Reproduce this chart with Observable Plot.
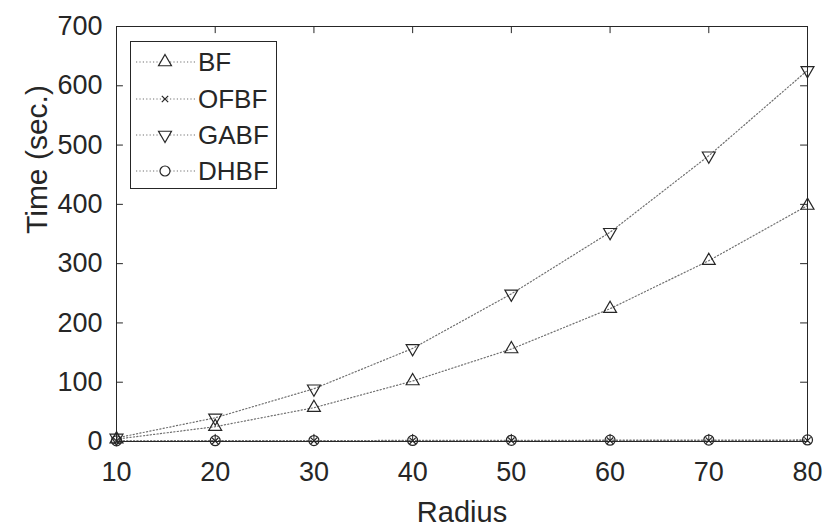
<!DOCTYPE html>
<html>
<head>
<meta charset="utf-8">
<script src="https://cdn.jsdelivr.net/npm/d3@7"></script>
<script src="https://cdn.jsdelivr.net/npm/@observablehq/plot@0.6"></script>
<style>
  html, body { margin: 0; padding: 0; background: #fff; }
  #wrap { position: relative; width: 826px; height: 530px; font-family: "Liberation Sans", Arial, sans-serif; }
  #legend { position: absolute; left: 0; top: 0; }
</style>
</head>
<body>
<div id="wrap"></div>
<script>
const radius = [10, 20, 30, 40, 50, 60, 70, 80];
const bf   = [4, 25, 57, 102, 156, 224, 305, 398];
const ofbf = [0.8, 1.0, 1.1, 1.2, 1.3, 1.4, 1.5, 1.6];
const gabf = [6, 40, 89, 157, 249, 353, 482, 626];
const dhbf = [1.2, 1.4, 1.6, 1.8, 2.0, 2.2, 2.4, 2.6];
const seriesNames = ["BF", "OFBF", "GABF", "DHBF"];
const xTicks = [10, 20, 30, 40, 50, 60, 70, 80];
const yTicks = [0, 100, 200, 300, 400, 500, 600, 700];
const xLabel = "Radius";
const yLabel = "Time (sec.)";

const seriesValues = [bf, ofbf, gabf, dhbf];
const symbols = {BF: "triangle", OFBF: "times", GABF: "triangle", DHBF: "circle"};
const rotations = {BF: 0, OFBF: 0, GABF: 180, DHBF: 0};
const rads = {BF: 4.8, OFBF: 3.0, GABF: 4.8, DHBF: 5};

const data = [];
seriesNames.forEach((s, i) => radius.forEach((r, j) => data.push({series: s, radius: r, time: seriesValues[i][j]})));

const ink = "#262626";
const lineColor = "#707070";
const font = "Liberation Sans, Arial, sans-serif";

const dotMarks = seriesNames.map(s => Plot.dot(data.filter(d => d.series === s), {
  x: "radius", y: "time", symbol: () => symbols[s], r: rads[s], rotate: rotations[s],
  stroke: ink, strokeWidth: 1.2, fill: "none"
}));

const chart = Plot.plot({
  width: 826,
  height: 530,
  marginLeft: 116,
  marginRight: 19,
  marginTop: 26,
  marginBottom: 89,
  style: {fontFamily: font, background: "#fff"},
  x: {domain: [10, 80], ticks: xTicks, label: null},
  y: {domain: [0, 700], ticks: yTicks, label: null},
  symbol: {type: "identity"},
  marks: [
    Plot.line(data, {x: "radius", y: "time", z: "series", stroke: lineColor, strokeWidth: 1.2, strokeDasharray: "1.2,2.2"}),
    ...dotMarks,
    Plot.frame({stroke: ink, strokeWidth: 1}),
    Plot.ruleX(xTicks, {x: d => d, y1: 0, y2: 12, stroke: ink}),
    Plot.ruleX(xTicks, {x: d => d, y1: 700, y2: 688, stroke: ink}),
    Plot.ruleY(yTicks, {y: d => d, x1: 10, x2: 10.7, stroke: ink}),
    Plot.ruleY(yTicks, {y: d => d, x1: 80, x2: 79.3, stroke: ink}),
    Plot.axisX(xTicks, {tickSize: 0, tickPadding: 20, fontSize: 27, fill: ink, label: null, anchor: "bottom"}),
    Plot.axisY(yTicks, {tickSize: 0, tickPadding: 14, fontSize: 27, fill: ink, label: null, anchor: "left"}),
    Plot.text([xLabel], {frameAnchor: "bottom", lineAnchor: "bottom", dy: 80, text: d => d, fontSize: 29, fill: ink}),
    Plot.text([yLabel], {frameAnchor: "left", lineAnchor: "bottom", dx: -70, rotate: -90, text: d => d, fontSize: 30, fill: ink})
  ]
});

const wrap = document.getElementById("wrap");
wrap.appendChild(chart);

// Legend overlay
const lg = d3.select(wrap).append("svg").attr("id", "legend")
  .attr("width", 826).attr("height", 530)
  .style("font-family", font);
lg.append("rect").attr("x", 130.5).attr("y", 41.5).attr("width", 146).attr("height", 147)
  .attr("fill", "#fff").attr("stroke", ink).attr("stroke-width", 1);
const rowY = [62, 99, 135, 171];
seriesNames.forEach((s, i) => {
  const g = lg.append("g").attr("transform", `translate(0,${rowY[i]})`);
  g.append("line").attr("x1", 136).attr("x2", 195).attr("y1", 0).attr("y2", 0)
    .attr("stroke", lineColor).attr("stroke-width", 1.2).attr("stroke-dasharray", "1.2,2.2");
  const sym = d3.symbol().type(
    symbols[s] === "triangle" ? d3.symbolTriangle : symbols[s] === "times" ? d3.symbolTimes : d3.symbolCircle
  ).size(Math.PI * rads[s] * rads[s]);
  g.append("path").attr("d", sym()).attr("fill", "#fff")
    .attr("stroke", ink).attr("stroke-width", 1.2)
    .attr("transform", `translate(165,0) rotate(${rotations[s]})`);
  g.append("text").attr("x", 198).attr("y", 0).attr("dy", "0.36em")
    .attr("font-size", 26).attr("fill", ink).text(s);
});
</script>
</body>
</html>
